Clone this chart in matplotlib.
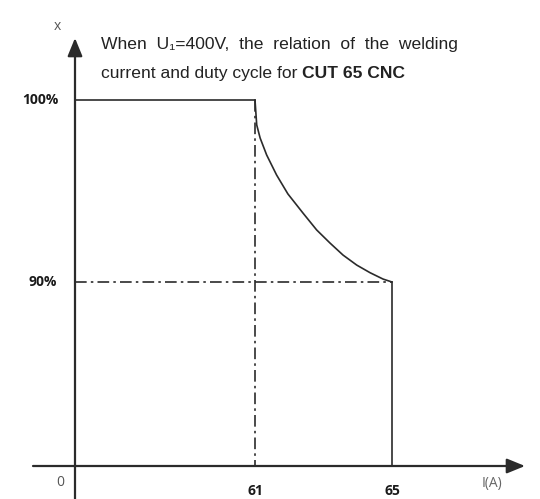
import numpy as np
import matplotlib.pyplot as plt
from matplotlib.scale import FuncScale

# rated points
current_ticks = [0, 61, 65]          # A
duty_ticks = [0, 90, 100]            # %
curve_I = [61.0, 61.05, 61.15, 61.34, 61.63, 61.96, 62.40, 62.80,
           63.19, 63.57, 63.97, 64.36, 64.74, 65.0]
curve_X = [100.0, 98.63, 97.91, 96.98, 95.88, 94.84, 93.79, 92.86,
           92.14, 91.48, 90.93, 90.51, 90.16, 90.0]
tick_labels_x = ['0', '61', '65']
tick_labels_y = ['90%', '100%']

# schematic (non-linear) axes: where each tick value sits on the page
x_px = [75, 255, 392]
y_px = [33, 217, 399]


def make_scale(knots, px):
    knots = np.asarray(knots, float)
    px = np.asarray(px, float)
    s0 = (px[1] - px[0]) / (knots[1] - knots[0])
    s1 = (px[-1] - px[-2]) / (knots[-1] - knots[-2])

    def fwd(v):
        v = np.asarray(v, float)
        out = np.interp(v, knots, px)
        out = np.where(v < knots[0], px[0] + (v - knots[0]) * s0, out)
        out = np.where(v > knots[-1], px[-1] + (v - knots[-1]) * s1, out)
        return out

    def inv(p):
        p = np.asarray(p, float)
        out = np.interp(p, px, knots)
        out = np.where(p < px[0], knots[0] + (p - px[0]) / s0, out)
        out = np.where(p > px[-1], knots[-1] + (p - px[-1]) / s1, out)
        return out

    return fwd, inv


fx, ix = make_scale(current_ticks, x_px)
fy, iy = make_scale(duty_ticks, y_px)

fig = plt.figure(figsize=(5.4, 4.99), dpi=100)
ax = fig.add_axes([0, 0, 1, 1])
ax.set_xscale(FuncScale(ax, (fx, ix)))
ax.set_yscale(FuncScale(ax, (fy, iy)))
ax.set_xlim(float(ix(0)), float(ix(540)))
ax.set_ylim(float(iy(0)), float(iy(499)))
ax.axis('off')

col = '#2b2b2b'
lw = 1.2
dash = (0, (7, 2.5, 1.5, 2.5))

# axes with arrows
x_lo, x_hi = float(ix(33)), float(ix(525))
y_lo, y_hi = float(iy(0)), float(iy(461))
ax.annotate('', xy=(x_hi, 0), xytext=(x_lo, 0),
            arrowprops=dict(arrowstyle='-|>,head_length=1.1,head_width=0.45',
                            color=col, lw=1.6, shrinkA=0, shrinkB=0))
ax.annotate('', xy=(0, y_hi), xytext=(0, y_lo),
            arrowprops=dict(arrowstyle='-|>,head_length=1.1,head_width=0.45',
                            color=col, lw=1.6, shrinkA=0, shrinkB=0))

# duty cycle curve
I1, I2 = current_ticks[1], current_ticks[2]
X90, X100 = duty_ticks[1], duty_ticks[2]
ax.plot([0, I1], [X100, X100], color=col, lw=lw)
ax.plot(curve_I, curve_X, color=col, lw=lw, solid_joinstyle='round')
ax.plot([I2, I2], [X90, 0], color=col, lw=lw)
ax.plot([I1, I1], [X100, 0], color=col, lw=lw, linestyle=dash)
ax.plot([0, I2], [X90, X90], color=col, lw=lw, linestyle=dash)

# labels
bold = dict(fontsize=10, fontweight='bold', color='#1a1a1a', family='Open Sans')
ax.text(float(ix(40)), X100, tick_labels_y[1], ha='center', va='center', **bold)
ax.text(float(ix(43)), X90, tick_labels_y[0], ha='center', va='center', **bold)
ax.text(float(ix(60)), float(iy(499 - 483)), tick_labels_x[0], ha='center', va='center',
        fontsize=10, color='#555555', family='Open Sans')
for v, lab in zip(current_ticks[1:], tick_labels_x[1:]):
    ax.text(v, float(iy(499 - 491)), lab, ha='center', va='center', **bold)
ax.text(float(ix(492)), float(iy(499 - 483)), 'I(A)', ha='center', va='center',
        fontsize=10, color='#666666', family='Open Sans')
ax.text(float(ix(57)), float(iy(499 - 27)), 'x', ha='center', va='center',
        fontsize=10, color='#555555', family='Open Sans')

txt = dict(fontsize=12.6, color='#222222', family=['Liberation Sans', 'DejaVu Sans'])
ax.text(float(ix(101)), float(iy(499 - 45)),
        'When  U\u2081=400V,  the  relation  of  the  welding', ha='left', va='center', **txt)
t2 = ax.text(float(ix(101)), float(iy(499 - 74)), 'current and duty cycle for ',
             ha='left', va='center', **txt)
ax.annotate('CUT 65 CNC', xy=(1, 0.5), xycoords=t2, ha='left', va='center',
            fontweight='bold', **txt)

fig.savefig('out.png', dpi=100)
